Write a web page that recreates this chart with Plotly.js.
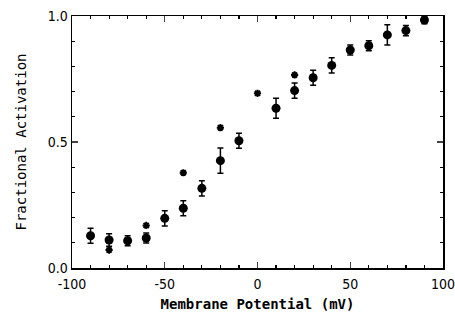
<!DOCTYPE html>
<html><head><meta charset="utf-8">
<script src="https://cdn.plot.ly/plotly-3.0.1.min.js"></script>
<style>body{margin:0;background:#fff}#c{width:455px;height:320px}</style>
</head><body><div id="c"></div>
<script>
const potentials = [-90,-80,-70,-60,-50,-40,-30,-20,-10,10,20,30,40,50,60,70,80,90];
const activation = [0.128,0.111,0.108,0.119,0.197,0.237,0.316,0.426,0.505,0.634,0.704,0.755,0.804,0.865,0.882,0.925,0.942,0.984];
const errors = [0.03,0.025,0.02,0.02,0.03,0.03,0.03,0.05,0.03,0.04,0.03,0.03,0.03,0.02,0.02,0.04,0.02,0.015];
const starPotentials = [-80,-60,-40,-20,0,20];
const starActivation = [0.071,0.169,0.378,0.557,0.693,0.766];
const xTicks = [-100,-50,0,50,100];
const yTicks = [0,0.5,1];
const yTickLabels = ['0.0','0.5','1.0'];

const fontT = 'DejaVu Sans Mono, monospace';
const fontN = 'DejaVu Sans Condensed, DejaVu Sans, sans-serif';

const traces = [
  {x: potentials, y: activation, type:'scatter', mode:'markers',
   marker:{symbol:'circle', size:9, color:'#000'},
   error_y:{type:'data', array: errors, visible:true, color:'#000', thickness:1.5, width:3},
   cliponaxis:false},
  {x: starPotentials, y: starActivation, type:'scatter', mode:'markers',
   marker:{symbol:'asterisk-open', size:6, color:'#000', line:{color:'#000', width:2}},
   cliponaxis:false}
];
const layout = {
  width:455, height:320, showlegend:false,
  margin:{l:72, r:12, t:16, b:52},
  paper_bgcolor:'#fff', plot_bgcolor:'#fff',
  xaxis:{range:[-100,100], tickvals:xTicks, ticktext:xTicks.map(String), ticks:'inside', ticklen:6, tickwidth:1.2,
    ticklabeloverflow:'allow', ticklabelstandoff:3,
    showline:true, linecolor:'#000', linewidth:1.5, mirror:'allticks', showgrid:false, zeroline:false,
    minor:{dtick:10, ticks:'inside', ticklen:3, tickcolor:'#000', showgrid:false},
    tickfont:{family:fontN, size:14, color:'#000'},
    title:{text:'<b>Membrane Potential (mV)</b>', font:{family:fontT, size:14, color:'#000'}, standoff:8}},
  yaxis:{range:[0,1], tickvals:yTicks, ticktext:yTickLabels, ticks:'inside', ticklen:6, tickwidth:1.2,
    ticklabeloverflow:'allow',
    showline:true, linecolor:'#000', linewidth:1.5, mirror:'allticks', showgrid:false, zeroline:false,
    minor:{dtick:0.1, ticks:'inside', ticklen:3, tickcolor:'#000', showgrid:false},
    tickfont:{family:fontN, size:14, color:'#000'},
    title:{text:'Fractional Activation', font:{family:fontT, size:14, color:'#000'}, standoff:18}}
};
Plotly.newPlot('c', traces, layout, {staticPlot:true});
</script></body></html>
